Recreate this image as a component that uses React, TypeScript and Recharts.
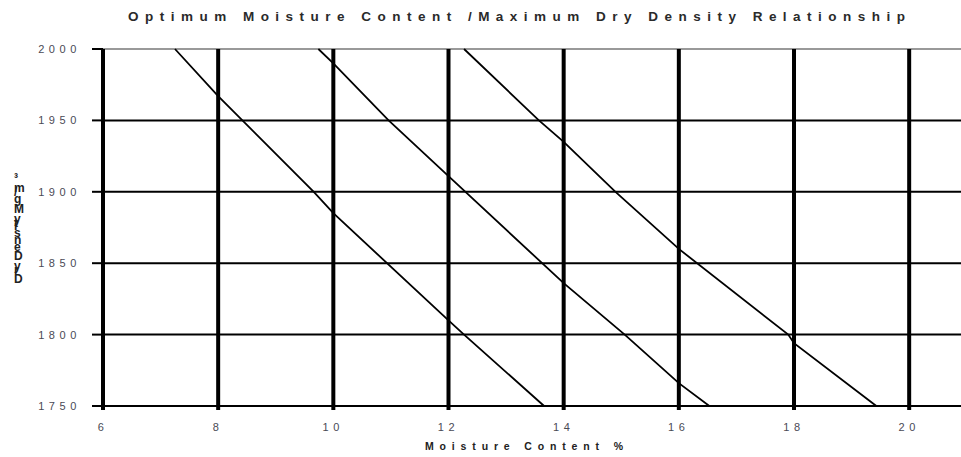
import React from "react";
import { LineChart, Line, XAxis, YAxis, ReferenceLine } from "recharts";

const chartTitle = "Optimum Moisture Content /Maximum Dry Density Relationship";
const xAxisTitle = "Moisture Content %";
const yAxisTitle = "Dry Density Mg/m³";

const xTicks = [6, 8, 10, 12, 14, 16, 18, 20];
const yTicks = [1750, 1800, 1850, 1900, 1950, 2000];
const xGridValues = [8, 10, 12, 14, 16, 18, 20];
const yGridBlack = [1800, 1850, 1900, 1950];
const yGridTop = [2000];

const line1 = [
  { x: 7.25, y: 2000 },
  { x: 8, y: 1967 },
  { x: 9.66, y: 1900 },
  { x: 10, y: 1885 },
  { x: 12, y: 1810 },
  { x: 12.27, y: 1800 },
  { x: 13.66, y: 1750 },
];
const line2 = [
  { x: 9.74, y: 2000 },
  { x: 10, y: 1990 },
  { x: 10.96, y: 1950 },
  { x: 12, y: 1911 },
  { x: 14, y: 1836 },
  { x: 15.06, y: 1800 },
  { x: 16, y: 1766 },
  { x: 16.53, y: 1750 },
];
const line3 = [
  { x: 12.27, y: 2000 },
  { x: 13.57, y: 1950 },
  { x: 14, y: 1935 },
  { x: 14.9, y: 1900 },
  { x: 16, y: 1860 },
  { x: 17.9, y: 1800 },
  { x: 18, y: 1794 },
  { x: 19.43, y: 1750 },
];
const series = [line1, line2, line3];

const FONT = "'Liberation Sans', Arial, sans-serif";

const YTick = (props: any) => {
  const { x, y, payload } = props;
  return (
    <text x={x - 9} y={y} dy={4} textAnchor="end" fontFamily={FONT} fontSize={11} letterSpacing={4.6} fill="#4a4a55">
      {payload.value}
    </text>
  );
};

const XTick = (props: any) => {
  const { x, y, payload } = props;
  return (
    <text x={x} y={y} dy={19} textAnchor="middle" fontFamily={FONT} fontSize={11} letterSpacing={4.6} fill="#4a4a55">
      {payload.value}
    </text>
  );
};

export default function App() {
  return (
    <div style={{ position: "absolute", left: 0, top: 0, width: 961, height: 457, background: "#fff" }}>
      <LineChart width={961} height={457} margin={{ top: 49, right: 0, left: 0, bottom: 0 }}>
        <XAxis
          dataKey="x"
          type="number"
          domain={[6, 20.9]}
          ticks={xTicks}
          allowDataOverflow
          height={51}
          tickSize={4}
          axisLine={{ stroke: "#000", strokeWidth: 2 }}
          tickLine={{ stroke: "#000", strokeWidth: 4 }}
          tick={<XTick />}
        />
        <YAxis
          type="number"
          domain={[1750, 2000]}
          ticks={yTicks}
          width={103}
          tickSize={11}
          axisLine={{ stroke: "#000", strokeWidth: 4 }}
          tickLine={{ stroke: "#000", strokeWidth: 2 }}
          tick={<YTick />}
        />
        {yGridBlack.map((v) => (
          <ReferenceLine key={"h" + v} y={v} stroke="#000" strokeWidth={2} />
        ))}
        {yGridTop.map((v) => (
          <ReferenceLine key={"t" + v} y={v} stroke="#999" strokeWidth={2} />
        ))}
        {xGridValues.map((v) => (
          <ReferenceLine key={"v" + v} x={v} stroke="#000" strokeWidth={4} />
        ))}
        {series.map((d, i) => (
          <Line
            key={i}
            data={d}
            dataKey="y"
            type="linear"
            stroke="#000"
            strokeWidth={1.8}
            dot={false}
            activeDot={false}
            isAnimationActive={false}
          />
        ))}
      </LineChart>
      <svg width={961} height={457} style={{ position: "absolute", left: 0, top: 0, pointerEvents: "none" }}>
        <text x={128} y={21} fontFamily={FONT} fontSize={13.5} fontWeight="bold" fill="#2a2a2a" textLength={777} lengthAdjust="spacing">
          {chartTitle}
        </text>
        <text x={425} y={450} fontFamily={FONT} fontSize={10.5} fontWeight="bold" fill="#222" textLength={198} lengthAdjust="spacing">
          {xAxisTitle}
        </text>
        <text transform="translate(14,283) rotate(-90)" rotate="90" fontFamily={FONT} fontSize={12} fontWeight="bold" fill="#222">
          {yAxisTitle}
        </text>
      </svg>
    </div>
  );
}
